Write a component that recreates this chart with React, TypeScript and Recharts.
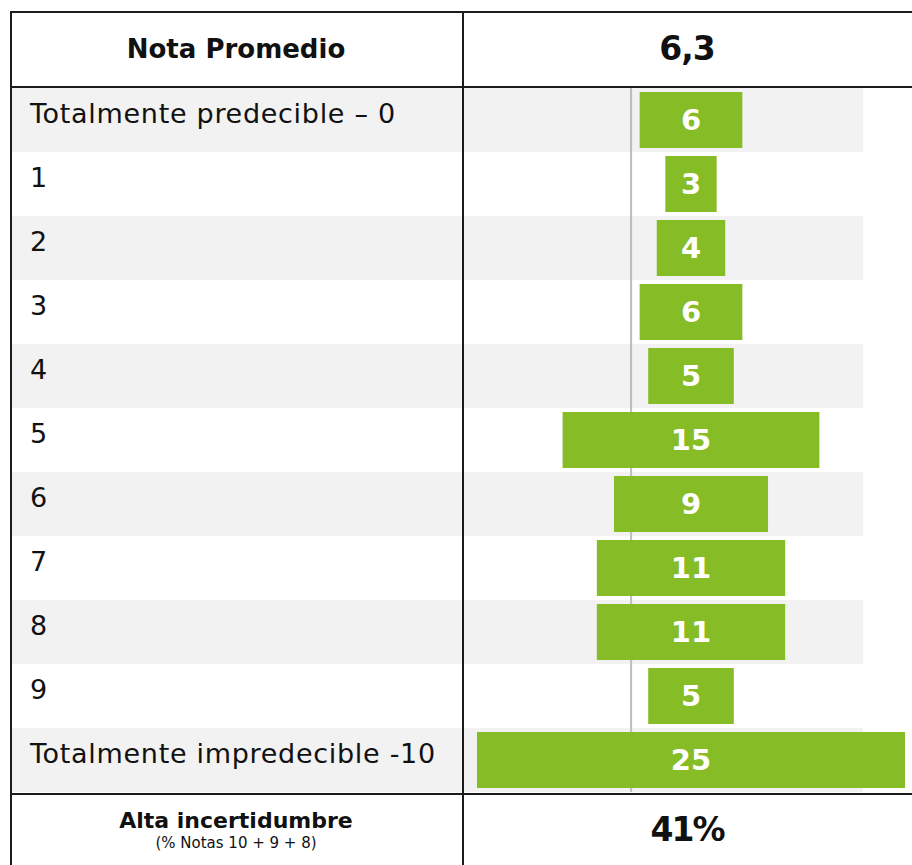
import React from "react";
import {
  BarChart,
  Bar,
  XAxis,
  YAxis,
  ReferenceArea,
  LabelList,
} from "recharts";

const categories = [
  "Totalmente predecible – 0",
  "1",
  "2",
  "3",
  "4",
  "5",
  "6",
  "7",
  "8",
  "9",
  "Totalmente impredecible -10",
];
const shares = [6, 3, 4, 6, 5, 15, 9, 11, 11, 5, 25];
const averageLabel = "Nota Promedio";
const averageScore = "6,3";
const footerTitle = "Alta incertidumbre";
const footerNote = "(% Notas 10 + 9 + 8)";
const highUncertainty = "41%";

const GREEN = "#86bc25";
const BAND = "#f2f2f2";
const LINE = "#1c1c1c";
const GUIDE = "#bdbdbd";
const FONT = "'DejaVu Sans', 'Noto Sans', sans-serif";

// bars are centred on 0; axis spans from the table's left edge to the page edge
const X_DOMAIN: [number, number] = [-39.78, 12.91];
const BAND_END = 10.05;
const GUIDE_AT = -3.5;

const data = categories.map((label, i) => ({
  label,
  value: shares[i],
  range: [-shares[i] / 2, shares[i] / 2],
}));

function RowLabel({ y, payload }: { y?: number; payload?: { value: string } }) {
  return (
    <text
      x={20}
      y={(y ?? 0) + 3}
      textAnchor="start"
      fontFamily={FONT}
      fontSize={27}
      letterSpacing={0.7}
      fill="#111"
    >
      {payload?.value}
    </text>
  );
}

const hLine = (top: number): React.CSSProperties => ({
  position: "absolute",
  left: 10,
  top,
  width: 902,
  height: 1.5,
  background: LINE,
  zIndex: 2,
});

const vLine = (left: number): React.CSSProperties => ({
  position: "absolute",
  left,
  top: 11,
  width: 1.5,
  height: 854,
  background: LINE,
  zIndex: 2,
});

export default function App() {
  return (
    <div
      style={{
        position: "absolute",
        left: 0,
        top: 0,
        width: 912,
        height: 865,
        overflow: "hidden",
        background: "#fff",
        fontFamily: FONT,
        color: "#111",
      }}
    >
      {/* header */}
      <div
        style={{
          position: "absolute",
          left: 10,
          top: 11,
          width: 452,
          height: 75,
          display: "flex",
          alignItems: "center",
          justifyContent: "center",
          fontSize: 26,
          fontWeight: 700,
        }}
      >
        {averageLabel}
      </div>
      <div
        style={{
          position: "absolute",
          left: 462,
          top: 11,
          width: 450,
          height: 75,
          display: "flex",
          alignItems: "center",
          justifyContent: "center",
          fontSize: 33,
          fontWeight: 700,
          letterSpacing: -1,
        }}
      >
        {averageScore}
      </div>

      <div style={{ position: "absolute", left: 10, top: 88 }}>
        <BarChart
          width={902}
          height={704}
          data={data}
          layout="vertical"
          margin={{ top: 0, right: 0, bottom: 0, left: 0 }}
          barSize={56}
        >
          <XAxis type="number" domain={X_DOMAIN} hide allowDataOverflow />
          <YAxis
            type="category"
            dataKey="label"
            mirror
            axisLine={false}
            tickLine={false}
            tick={<RowLabel />}
            interval={0}
          />
          {categories.map((c, i) =>
            i % 2 === 0 ? (
              <ReferenceArea
                key={c}
                y1={c}
                y2={c}
                x1={X_DOMAIN[0]}
                x2={BAND_END}
                fill={BAND}
                fillOpacity={1}
                stroke="none"
              />
            ) : null
          )}
          {/* thin guide kept behind the bars */}
          <ReferenceArea
            x1={GUIDE_AT - 0.06}
            x2={GUIDE_AT + 0.06}
            fill={GUIDE}
            fillOpacity={1}
            stroke="none"
          />
          <Bar dataKey="range" fill={GREEN} isAnimationActive={false}>
            <LabelList
              dataKey="value"
              position="center"
              fill="#fff"
              fontSize={29}
              fontWeight={700}
              fontFamily={FONT}
            />
          </Bar>
        </BarChart>
      </div>

      {/* footer */}
      <div
        style={{
          position: "absolute",
          left: 10,
          top: 794,
          width: 452,
          height: 71,
          display: "flex",
          flexDirection: "column",
          alignItems: "center",
          justifyContent: "center",
        }}
      >
        <div style={{ fontSize: 22, fontWeight: 700, lineHeight: "27px" }}>
          {footerTitle}
        </div>
        <div style={{ fontSize: 15, lineHeight: "19px" }}>{footerNote}</div>
      </div>
      <div
        style={{
          position: "absolute",
          left: 462,
          top: 794,
          width: 450,
          height: 71,
          display: "flex",
          alignItems: "center",
          justifyContent: "center",
          fontSize: 33,
          fontWeight: 700,
          letterSpacing: -2,
        }}
      >
        {highUncertainty}
      </div>

      {/* table rules */}
      <div style={hLine(11)} />
      <div style={hLine(86)} />
      <div style={hLine(793)} />
      <div style={vLine(10)} />
      <div style={vLine(462)} />
    </div>
  );
}
